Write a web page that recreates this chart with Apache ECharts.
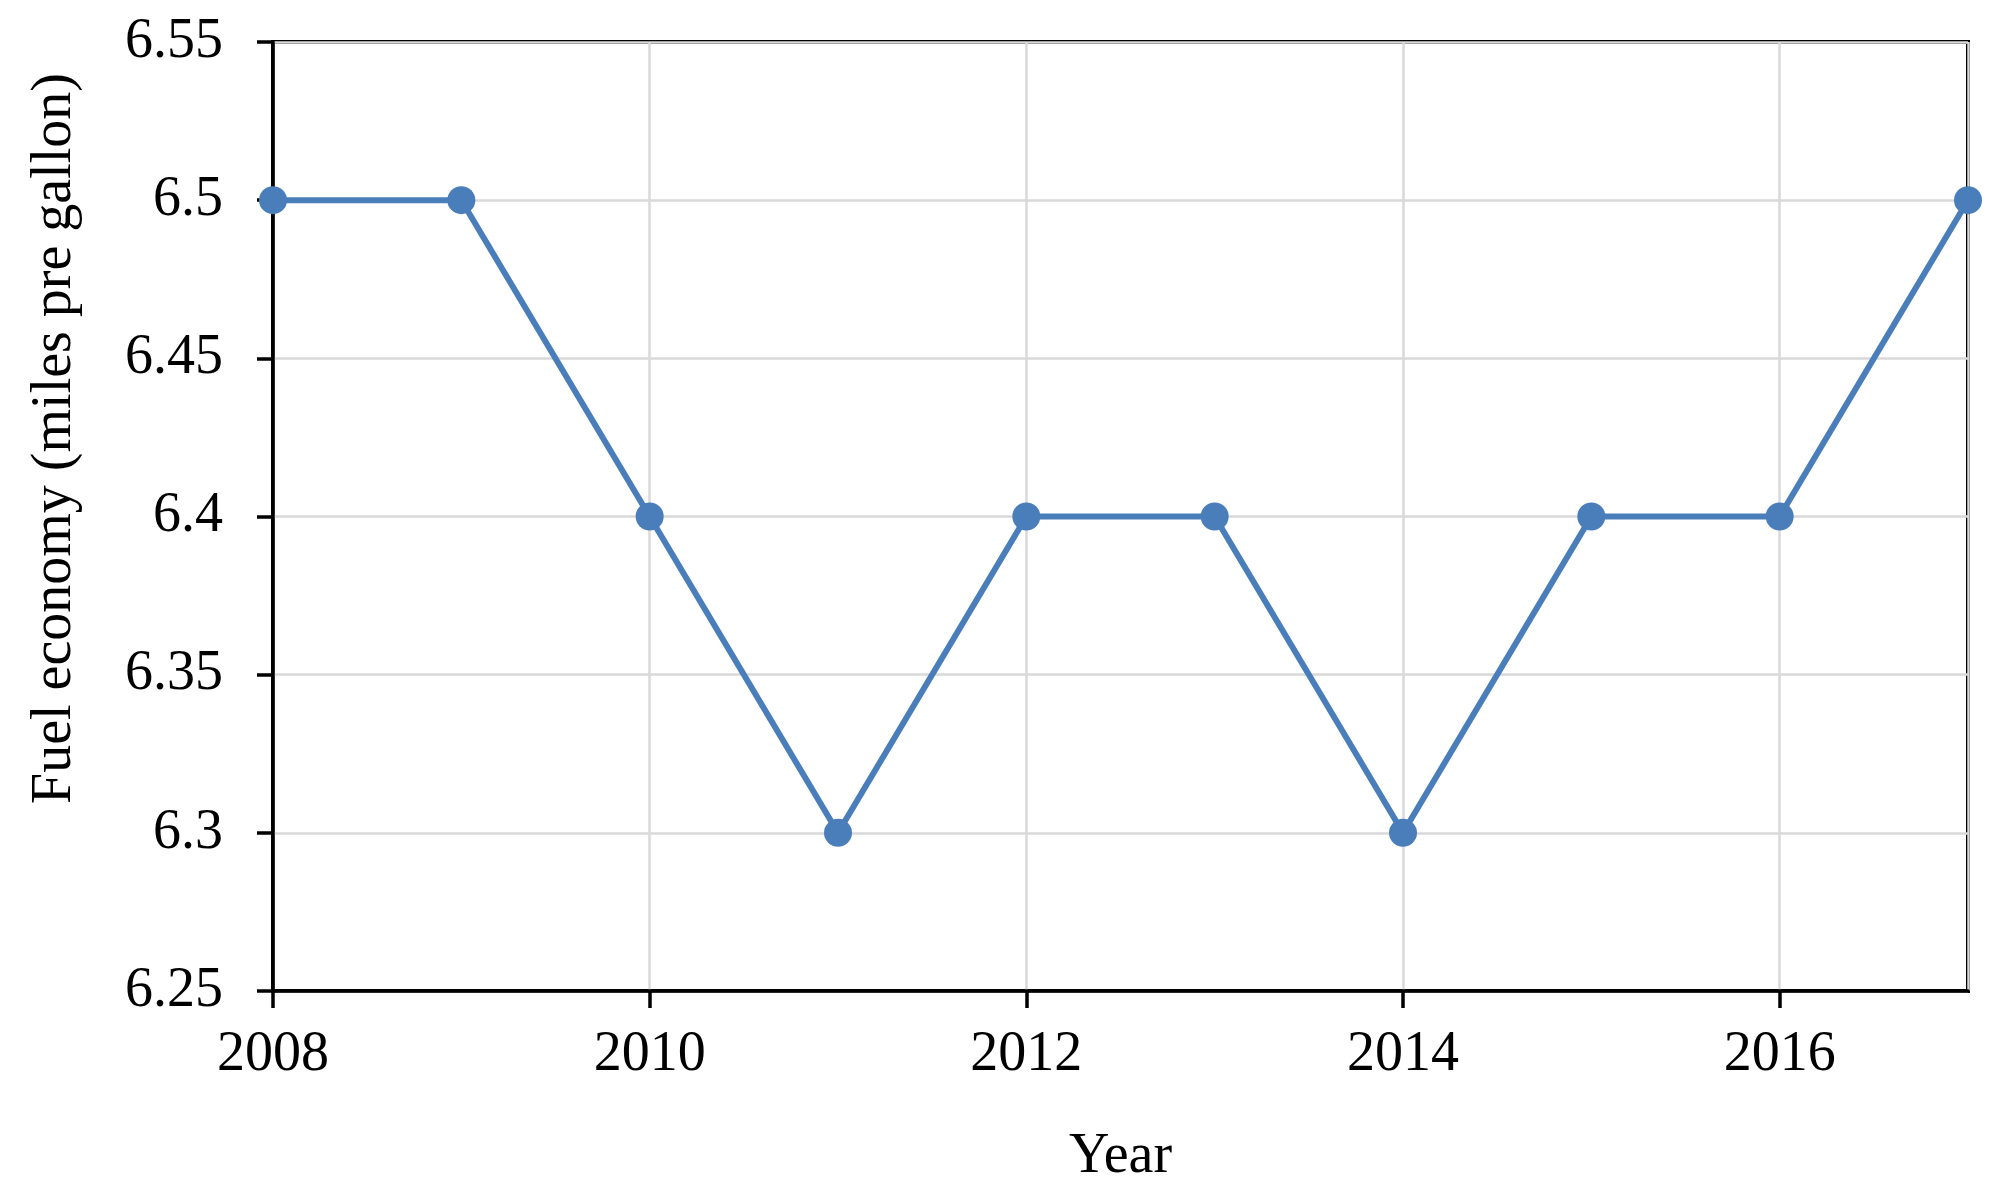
<!DOCTYPE html>
<html>
<head>
<meta charset="utf-8">
<title>Fuel economy</title>
<script src="https://cdn.jsdelivr.net/npm/echarts@6/dist/echarts.min.js"></script>
<style>
  html, body { margin: 0; padding: 0; background: #fff; }
  #chart { width: 2000px; height: 1204px; }
</style>
</head>
<body>
<div id="chart"></div>
<script>
// data
const years = [2008, 2009, 2010, 2011, 2012, 2013, 2014, 2015, 2016, 2017]
const fuelEconomy = [6.5, 6.5, 6.4, 6.3, 6.4, 6.4, 6.3, 6.4, 6.4, 6.5]

const font = 'Liberation Serif'
const blue = '#4a7ebb'

let myChart = echarts.init(document.getElementById('chart'))

let points = years.map((y, i) => [y, fuelEconomy[i]])

let option = {
  animation: false,
  grid: {
    left: 273,
    top: 42,
    right: 32,
    bottom: 213,
    show: true,
    borderColor: '#000',
    borderWidth: 4
  },
  xAxis: {
    type: 'value',
    min: 2008,
    max: 2017,
    interval: 2,
    name: 'Year',
    nameLocation: 'middle',
    nameGap: 138,
    nameTextStyle: { fontFamily: font, fontSize: 56, color: '#000' },
    axisLine: { lineStyle: { color: '#000', width: 3.5 } },
    axisTick: { show: true, length: 17, lineStyle: { color: '#000', width: 3.5 } },
    axisLabel: {
      fontFamily: font,
      fontSize: 56,
      color: '#000',
      margin: 36,
      showMaxLabel: false,
      formatter: v => String(v)
    },
    splitLine: { show: true, lineStyle: { color: '#d9d9d9', width: 2.5 } }
  },
  yAxis: {
    type: 'value',
    min: 6.25,
    max: 6.55,
    interval: 0.05,
    name: 'Fuel economy (miles pre gallon)',
    nameLocation: 'middle',
    nameGap: 190,
    nameTextStyle: { fontFamily: font, fontSize: 56, color: '#000', padding: [0, 0, 0, 156] },
    axisLine: { show: true, lineStyle: { color: '#000', width: 3.5 } },
    axisTick: { show: true, length: 16, lineStyle: { color: '#000', width: 3.5 } },
    axisLabel: {
      fontFamily: font,
      fontSize: 56,
      color: '#000',
      margin: 50
    },
    splitLine: { show: true, lineStyle: { color: '#d9d9d9', width: 2.5 } }
  },
  series: [
    {
      type: 'line',
      data: points,
      symbol: 'circle',
      symbolSize: 28,
      clip: false,
      itemStyle: { color: blue },
      lineStyle: { color: blue, width: 6 }
    }
  ]
}
myChart.setOption(option)
</script>
</body>
</html>
